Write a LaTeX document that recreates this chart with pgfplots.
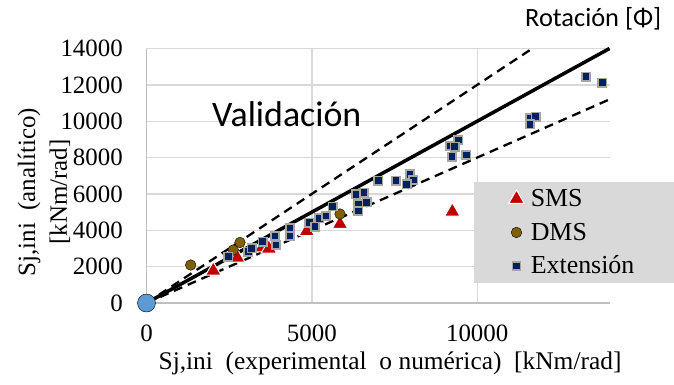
\documentclass[border=0pt]{standalone}
\usepackage{fontspec}
\setmainfont{Liberation Serif}
\newfontfamily\calibri{Carlito}
\usepackage{pgfplots}
\pgfplotsset{compat=1.18}
\definecolor{smsred}{HTML}{C00000}
\definecolor{dmsbrown}{HTML}{7F6000}
\definecolor{extnavy}{HTML}{002060}
\definecolor{extedge}{HTML}{A6A6A6}
\definecolor{origblue}{HTML}{5B9BD5}
\definecolor{gridgray}{HTML}{D9D9D9}
\definecolor{axisgray}{HTML}{BFBFBF}
\definecolor{legfill}{HTML}{D9D9D9}

\pgfplotstableread{
x y
2020 1777
2746 2490
3500 3060
3700 2990
4844 3950
5851 4346
9247 5022
}\smsdata

\pgfplotstableread{
x y
1336 2090
2625 2915
2827 3330
5851 4896
}\dmsdata

\pgfplotstableread{
x y
2474 2547
3079 2822
3181 3009
3514 3372
3886 3686
3916 3190
4339 4109
4339 3686
4923 4417
5095 4197
5225 4659
5428 4786
5630 5310
6335 5980
6577 6068
6405 5446
6659 5539
6405 5061
7009 6727
7545 6727
7968 7079
8068 6766
7868 6530
9429 8966
9178 8636
9320 8598
9238 8048
9670 8141
11597 10160
11769 10248
11597 9830
13290 12448
13783 12118
}\extdata

\begin{document}
\begin{tikzpicture}[x=1bp,y=1bp]
\path[use as bounding box] (-146.5,-81) rectangle (527.5,303);
\begin{axis}[
  at={(0,0)}, anchor=south west,
  width=463bp, height=254.5bp, scale only axis,
  xmin=0, xmax=14000, ymin=0, ymax=14000,
  clip=false,
  scaled ticks=false,
  xtick={0,5000,10000}, ytick={0,2000,...,14000},
  grid=major, grid style={gridgray, line width=1.3bp},
  axis lines=left, axis line style={axisgray, line width=1.3bp, -},
  major tick length=0pt,
  tick label style={font=\fontsize{25}{30}\selectfont},
  /pgf/number format/assume math mode=true,
  /pgf/number format/1000 sep={},
  xticklabel style={anchor=north, inner sep=0pt, yshift=-22bp},
  yticklabel style={anchor=east, inner sep=0pt, xshift=-23.5bp},
  xlabel={Sj,ini\ \ (experimental\ \ o numérica)\ \ [kNm/rad]},
  xlabel style={at={(axis description cs:0.526,-0.263)}, anchor=base, inner sep=0pt, font=\fontsize{25.5}{30}\selectfont},
  ylabel={Sj,ini\ \ (analítico)\\\relax[kNm/rad]},
  ylabel style={at={(axis description cs:-0.2214,0.436)}, anchor=center, align=center, inner sep=0pt, font=\fontsize{25}{32}\selectfont},
  legend cell align=left,
  legend style={at={(axis description cs:0.7073,0.4754)}, anchor=north west,
    fill=legfill, draw=none, font=\fontsize{26}{30}\selectfont,
    inner xsep=34.5bp, inner ysep=0bp,
    nodes={inner xsep=6.5bp, inner ysep=7.75bp, text height=17bp, text depth=1bp}},
]
\addplot[only marks, mark=triangle*, mark size=9bp,
  mark options={fill=smsred, draw=white, line width=1bp}] table {\smsdata};
\addlegendentry{SMS}
\addplot[only marks, mark=*, mark size=5.3bp,
  mark options={fill=dmsbrown, draw=none}] table {\dmsdata};
\addlegendentry{DMS}
\addplot[only marks, mark=square*, mark size=4.2bp,
  mark options={fill=extnavy, draw=extedge, line width=1.5bp}] table {\extdata};
\addlegendentry{Extensión}
\addplot[forget plot, only marks, mark=*, mark size=9bp,
  mark options={fill=origblue, draw=none}] coordinates {(0,0)};
\addplot[forget plot, black, line width=2.3bp, dash pattern=on 9bp off 6bp]
  coordinates {(0,0) (11666.7,14000)};
\addplot[forget plot, black, line width=2.3bp, dash pattern=on 9bp off 6bp]
  coordinates {(0,0) (14000,11200)};
\addplot[forget plot, black, line width=3.5bp] coordinates {(0,0) (14000,14000)};
\node[anchor=base west, inner sep=0pt, font=\calibri\fontsize{36}{40}\selectfont]
  at (axis description cs:0.1415,0.693) {Validación};
\node[anchor=base west, inner sep=0pt, font=\calibri\fontsize{26.5}{30}\selectfont]
  at (axis description cs:0.8175,1.0845) {Rotación [Φ]};
\end{axis}
\end{tikzpicture}
\end{document}
